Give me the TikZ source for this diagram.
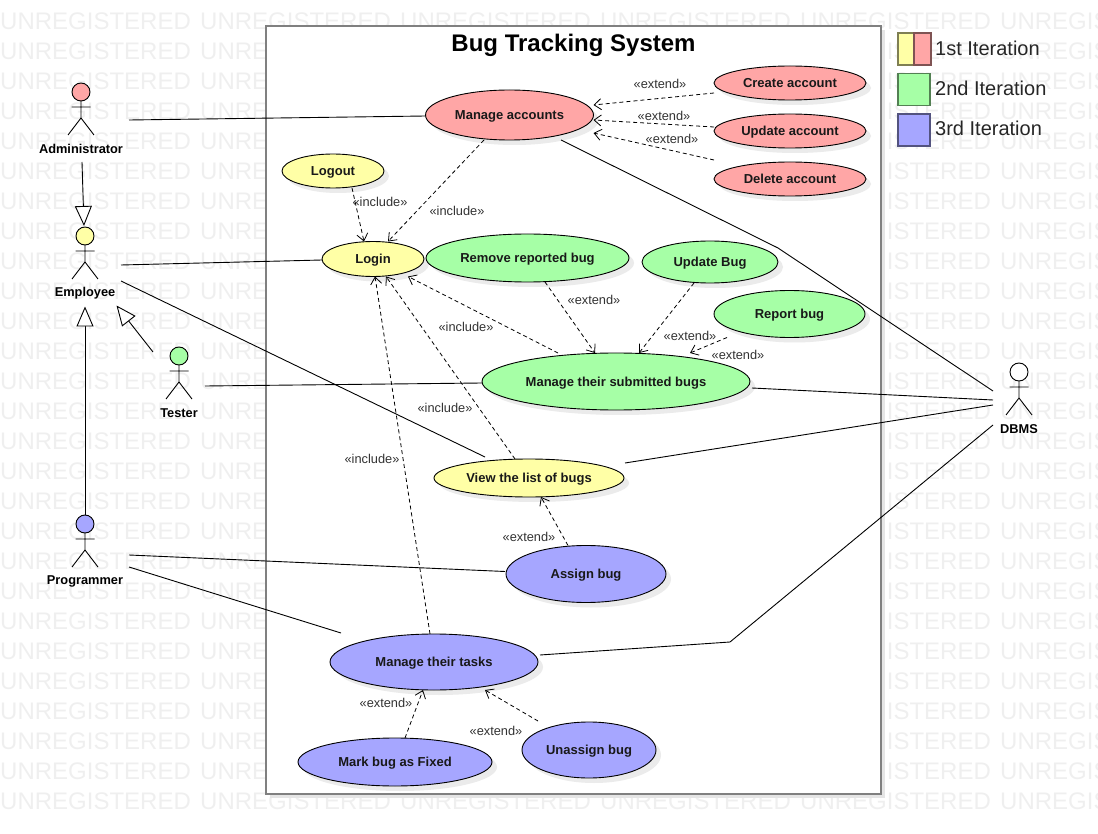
\documentclass[tikz,border=0pt]{standalone}
\usepackage{fontspec}
\setmainfont{Liberation Sans}
\usetikzlibrary{shapes.geometric,arrows.meta,shadows}

\definecolor{redcase}{HTML}{FFA6A6}
\definecolor{yellowcase}{HTML}{FFFFA6}
\definecolor{greencase}{HTML}{A6FFA6}
\definecolor{bluecase}{HTML}{A6A6FF}
\definecolor{rededge}{HTML}{7F5353}
\definecolor{yellowedge}{HTML}{7F7F53}
\definecolor{greenedge}{HTML}{538053}
\definecolor{blueedge}{HTML}{53537F}
\definecolor{wmgray}{HTML}{EFEFEF}

\tikzset{
    usecase/.style={ellipse,draw=black,line width=0.9pt,inner sep=0pt,outer sep=0pt,
        font=\fontsize{13}{15}\selectfont\bfseries,text=black!90,text height=9.4pt,text depth=0pt,
        drop shadow={shadow xshift=5pt,shadow yshift=-5pt,fill=black!8,opacity=1}},
    head/.style={circle,draw=black,line width=0.9pt,minimum size=18pt,inner sep=0pt,outer sep=0pt},
    actorname/.style={font=\fontsize{12.8}{15}\selectfont\bfseries,inner sep=0pt},
    stereo/.style={font=\fontsize{12.8}{15}\selectfont,text=black!80,inner sep=0pt},
    dashline/.style={densely dashed,dash pattern=on 4pt off 3pt,line width=0.8pt,-{Straight Barb[length=7pt,width=11pt]}},
    assoc/.style={line width=0.9pt},
    general/.style={line width=0.9pt,-{Triangle[open,length=20pt,width=17pt,fill=white]}},
    legendbox/.style={minimum size=32pt,inner sep=0pt,outer sep=0pt,line width=1.6pt},
    legendtext/.style={font=\fontsize{20}{22}\selectfont,anchor=west,inner sep=0pt,text=black!85}
}

\begin{document}
\begin{tikzpicture}[x=1pt,y=-1pt]
    \useasboundingbox (0,0) rectangle (1098,834);

    % watermark
    \foreach \r in {0,...,26}
        \foreach \c in {0,...,5}
            \node[anchor=west,inner sep=0pt,text=wmgray,font=\fontsize{24}{26}\selectfont]
                (wm-\r-\c) at (200*\c,21+30*\r) {UNREGISTERED};

    % system boundary
    \fill[black!10] (270,30) rectangle (885,798);
    \draw[fill=white,draw=black!50,line width=1.8pt] (266,26) rectangle (881,794);
    \node[font=\fontsize{24}{26}\selectfont\bfseries,inner sep=0pt] (title) at (573.5,45) {Bug Tracking System};

    % legend
    \node[legendbox,fill=yellowcase,draw=yellowedge,minimum width=16.5pt,minimum height=32pt] (legend1a) at (906,49) {};
    \node[legendbox,fill=redcase,draw=rededge,minimum width=16.5pt,minimum height=32pt] (legend1b) at (922.5,49) {};
    \node[legendbox,fill=greencase,draw=greenedge] (legend2) at (914,89.5) {};
    \node[legendbox,fill=bluecase,draw=blueedge] (legend3) at (914,130) {};
    \node[legendtext] (legendtext1) at (935,48) {1st Iteration};
    \node[legendtext] (legendtext2) at (935,88) {2nd Iteration};
    \node[legendtext] (legendtext3) at (935,128) {3rd Iteration};

    % use cases
    \node[usecase,fill=redcase,minimum width=168pt,minimum height=50pt] (manageacc) at (509.5,115) {Manage accounts};
    \node[usecase,fill=redcase,minimum width=152pt,minimum height=34pt] (createacc) at (790,83) {Create account};
    \node[usecase,fill=redcase,minimum width=152pt,minimum height=34pt] (updateacc) at (790,131) {Update account};
    \node[usecase,fill=redcase,minimum width=152pt,minimum height=34pt] (deleteacc) at (790,179) {Delete account};
    \node[usecase,fill=yellowcase,minimum width=102pt,minimum height=34pt] (logout) at (333,171) {Logout};
    \node[usecase,fill=yellowcase,minimum width=102pt,minimum height=35pt] (login) at (373,259) {Login};
    \node[usecase,fill=greencase,minimum width=203pt,minimum height=48pt] (removebug) at (527.5,258) {Remove reported bug};
    \node[usecase,fill=greencase,minimum width=136pt,minimum height=42pt] (updatebug) at (710,262) {Update Bug};
    \node[usecase,fill=greencase,minimum width=151pt,minimum height=47pt] (reportbug) at (789.5,314) {Report bug};
    \node[usecase,fill=greencase,minimum width=268pt,minimum height=57pt] (submitted) at (616,381.5) {Manage their submitted bugs};
    \node[usecase,fill=yellowcase,minimum width=190pt,minimum height=38pt] (viewlist) at (529,478) {View the list of bugs};
    \node[usecase,fill=bluecase,minimum width=160pt,minimum height=57pt] (assignbug) at (586,574) {Assign bug};
    \node[usecase,fill=bluecase,minimum width=208pt,minimum height=56pt] (tasks) at (434,662) {Manage their tasks};
    \node[usecase,fill=bluecase,minimum width=194pt,minimum height=48pt] (markfixed) at (395,762) {Mark bug as Fixed};
    \node[usecase,fill=bluecase,minimum width=134pt,minimum height=56pt] (unassign) at (589,750) {Unassign bug};

    % actors
    \node[head,fill=redcase] (admin) at (81,92) {};
    \node[head,fill=yellowcase] (employee) at (85,236) {};
    \node[head,fill=greencase] (tester) at (179,356) {};
    \node[head,fill=bluecase] (programmer) at (85,524) {};
    \node[head,fill=white] (dbms) at (1019,372) {};
    \foreach \who in {admin,employee,tester,programmer,dbms} {
        \draw[line width=0.9pt] (\who.south) -- ++(0,17) coordinate (\who-hip) -- ++(-13,17)
            (\who-hip) -- ++(13,17)
            ([yshift=-6pt]\who.south) ++(-9.5,0) -- ++(19,0);
    }
    \node[actorname] (adminname) at (81,149) {Administrator};
    \node[actorname] (employeename) at (85,293) {Employee};
    \node[actorname] (testername) at (179,413) {Tester};
    \node[actorname] (programmername) at (85,581) {Programmer};
    \node[actorname] (dbmsname) at (1019,429) {DBMS};

    % generalizations
    \draw[general] ([xshift=1pt,yshift=-13pt]adminname.center) -- ([xshift=-1pt,yshift=1pt]employee.north);
    \draw[general] (programmer.north) -- ([yshift=-13.5pt]employeename.center);
    \draw[general] ([xshift=-26pt,yshift=-5pt]tester.north) -- ([xshift=31.5pt,yshift=-12.5pt]employeename.center);

    % associations
    \coordinate (bendtop) at (778,248);
    \coordinate (bendlow) at (730,642);
    \draw[assoc] ([xshift=48pt,yshift=-28pt]admin.center) -- ([yshift=-1pt]manageacc.west);
    \draw[assoc] ([xshift=36pt,yshift=-29pt]employee.center) -- ([yshift=-1pt]login.west);
    \draw[assoc] ([xshift=36pt,yshift=-45pt]employee.center) -- ([xshift=-44pt,yshift=2pt]viewlist.north);
    \draw[assoc] ([xshift=26pt,yshift=-30pt]tester.center) -- ([yshift=-1.5pt]submitted.west);
    \draw[assoc] ([xshift=44pt,yshift=-31pt]programmer.center) -- ([xshift=-1pt,yshift=2.5pt]assignbug.west);
    \draw[assoc] ([xshift=44pt,yshift=-43pt]programmer.center) -- ([xshift=-93pt,yshift=1pt]tasks.north);
    \draw[assoc] ([xshift=51.5pt]manageacc.south) -- (bendtop) -- ([xshift=-26pt,yshift=-19pt]dbms.center);
    \draw[assoc] ([xshift=2pt,yshift=-6.5pt]submitted.east) -- ([xshift=-26pt,yshift=-28pt]dbms.center);
    \draw[assoc] ([xshift=1pt,yshift=15pt]viewlist.east) -- ([xshift=-26pt,yshift=-33pt]dbms.center);
    \draw[assoc] ([xshift=2pt,yshift=7pt]tasks.east) -- (bendlow) -- ([xshift=-26pt,yshift=-53pt]dbms.center);

    % extend and include
    \draw[dashline] ([yshift=-10pt]createacc.west) -- ([yshift=10pt]manageacc.east);
    \draw[dashline] ([yshift=4pt]updateacc.west) -- ([yshift=-5pt]manageacc.east);
    \draw[dashline] ([yshift=19pt]deleteacc.west) -- ([yshift=-18pt]manageacc.east);
    \draw[dashline] ([xshift=-25.5pt]manageacc.south) -- ([xshift=15pt]login.north);
    \draw[dashline] ([xshift=19pt]logout.south) -- ([xshift=-9pt]login.north);
    \draw[dashline] ([xshift=17.5pt]removebug.south) -- ([xshift=-21pt]submitted.north);
    \draw[dashline] ([xshift=-16pt]updatebug.south) -- ([xshift=23pt]submitted.north);
    \draw[dashline] ([xshift=-62.5pt]reportbug.south) -- ([xshift=74pt]submitted.north);
    \draw[dashline] ([xshift=-58pt]submitted.north) -- ([xshift=35pt]login.south);
    \draw[dashline] ([xshift=-14pt]viewlist.north) -- ([xshift=13pt]login.south);
    \draw[dashline] ([xshift=-4pt]tasks.north) -- ([xshift=2pt]login.south);
    \draw[dashline] ([xshift=-18pt]assignbug.north) -- ([xshift=12pt]viewlist.south);
    \draw[dashline] ([xshift=10pt]markfixed.north) -- ([xshift=-11pt]tasks.south);
    \draw[dashline] ([xshift=-51pt,yshift=1pt]unassign.north) -- ([xshift=51pt]tasks.south);

    % stereotypes
    \node[stereo] (ext1) at (660,84) {«extend»};
    \node[stereo] (ext2) at (664,116) {«extend»};
    \node[stereo] (ext3) at (672,139) {«extend»};
    \node[stereo] (ext4) at (594,300) {«extend»};
    \node[stereo] (ext5) at (690,336) {«extend»};
    \node[stereo] (ext6) at (738,355) {«extend»};
    \node[stereo] (ext7) at (529,537) {«extend»};
    \node[stereo] (ext8) at (386,703) {«extend»};
    \node[stereo] (ext9) at (496,731) {«extend»};
    \node[stereo] (inc1) at (380,202) {«include»};
    \node[stereo] (inc2) at (457,211) {«include»};
    \node[stereo] (inc3) at (466,327) {«include»};
    \node[stereo] (inc4) at (445,408) {«include»};
    \node[stereo] (inc5) at (372,459) {«include»};
\end{tikzpicture}
\end{document}
